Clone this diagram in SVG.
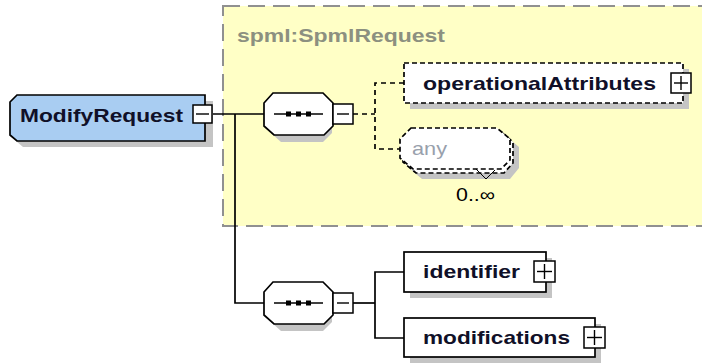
<svg xmlns="http://www.w3.org/2000/svg" width="702" height="364" viewBox="0 0 702 364">
<defs>
<style>
.t{font-family:"Liberation Sans",Arial,sans-serif;font-weight:bold;font-size:19px;fill:#101028}
.ln{fill:none;stroke:#000;stroke-width:1.7}
.dl{fill:none;stroke:#000;stroke-width:1.7;stroke-dasharray:5 4}
.sh{fill:#c4c4c4}
.box{fill:#fff;stroke:#000;stroke-width:1.7}
.dbox{fill:#fff;stroke:#000;stroke-width:1.7;stroke-dasharray:5 3}
.pm{fill:#fff;stroke:#000;stroke-width:1.5}
</style>
<g id="seqshape">
<polygon class="sh" points="16,7 58,7 68,17 68,40 59,49 17,49 7,40 7,17"/>
<polygon class="box" points="9,0 59,0 69,10 69,33 60,42 10,42 0,33 0,10"/>
<line x1="10" y1="21" x2="59" y2="21" stroke="#000" stroke-width="1.6"/>
<rect x="22" y="18.5" width="5" height="5" fill="#000"/>
<rect x="32" y="18.5" width="5" height="5" fill="#000"/>
<rect x="42" y="18.5" width="5" height="5" fill="#000"/>
<rect class="pm" x="69" y="11" width="20" height="20"/>
<line x1="73" y1="21" x2="85" y2="21" stroke="#000" stroke-width="1.4"/>
</g>
</defs>
<rect width="702" height="364" fill="#fff"/>

<g id="spmlRequest">
<rect x="223" y="6" width="485" height="220" fill="#ffffc6" stroke="#909090" stroke-width="2" stroke-dasharray="17 8"/>
<text x="237" y="42" style="font-family:'Liberation Sans',Arial,sans-serif;font-weight:bold;font-size:19px;fill:#8c9080" textLength="208" lengthAdjust="spacingAndGlyphs">spml:SpmlRequest</text>
</g>

<g id="connectors">
<polyline class="ln" points="212,114 264,114"/>
<polyline class="ln" points="235,114 235,303 264,303"/>
<polyline class="dl" points="353,114 375,114"/>
<polyline class="dl" points="404,83 375,83 375,149 404,149"/>
<polyline class="ln" points="353,303 375,303"/>
<polyline class="ln" points="404,272 375,272 375,338 404,338"/>
</g>

<g id="ModifyRequest">
<polygon class="sh" points="23,101 213,101 213,147 23,147 16,141 16,108"/>
<polygon points="17,95 205,95 205,141 17,141 10,135 10,102" fill="#a9cdf2" stroke="#000" stroke-width="1.7"/>
<text class="t" x="20" y="122" textLength="163" lengthAdjust="spacingAndGlyphs">ModifyRequest</text>
<rect class="pm" x="193" y="105" width="19" height="18"/>
<line x1="196" y1="114" x2="209" y2="114" stroke="#000" stroke-width="1.4"/>
</g>

<g id="sequence1">
<use href="#seqshape" x="264" y="93"/>
</g>

<g id="sequence2">
<use href="#seqshape" x="264" y="282"/>
</g>

<g id="operationalAttributes">
<rect class="sh" x="410" y="69" width="279" height="40"/>
<rect class="dbox" x="404" y="63" width="279" height="40"/>
<text class="t" x="423" y="90" textLength="233" lengthAdjust="spacingAndGlyphs">operationalAttributes</text>
<rect class="pm" x="671" y="73" width="20" height="20"/>
<line x1="674" y1="83" x2="688" y2="83" stroke="#000" stroke-width="1.4"/>
<line x1="681" y1="76" x2="681" y2="90" stroke="#000" stroke-width="1.4"/>
</g>

<g id="any">
<polygon class="sh" points="420,136 506,136 519,147 519,168 510,179 422,179 409,168"/>
<polygon class="dbox" points="414,131 500,131 513,142 513,163 504,173 416,173 403,162 403,142"/>
<polygon class="dbox" points="411,128 497,128 510,139 510,160 501,169 413,169 400,158 400,139" style="fill:#fff"/>
<text x="412" y="155" style="font-family:'Liberation Sans',Arial,sans-serif;font-size:19px;fill:#98a0ac" textLength="35" lengthAdjust="spacingAndGlyphs">any</text>
<polyline points="476,169 486,179 495,170" fill="none" stroke="#000" stroke-width="1"/>
<text x="456" y="201" style="font-family:'Liberation Sans',Arial,sans-serif;font-size:18px;fill:#000" textLength="39" lengthAdjust="spacingAndGlyphs">0..∞</text>
</g>

<g id="identifier">
<rect class="sh" x="410" y="258" width="142" height="40"/>
<rect class="box" x="404" y="252" width="142" height="40"/>
<text class="t" x="423" y="278" textLength="97" lengthAdjust="spacingAndGlyphs">identifier</text>
<rect class="pm" x="534" y="261" width="21" height="21"/>
<line x1="537" y1="271.5" x2="552" y2="271.5" stroke="#000" stroke-width="1.4"/>
<line x1="544.5" y1="264" x2="544.5" y2="279" stroke="#000" stroke-width="1.4"/>
</g>

<g id="modifications">
<rect class="sh" x="410" y="324" width="191" height="39"/>
<rect class="box" x="404" y="318" width="191" height="39"/>
<text class="t" x="423" y="344" textLength="147" lengthAdjust="spacingAndGlyphs">modifications</text>
<rect class="pm" x="584" y="327" width="21" height="21"/>
<line x1="587" y1="337.5" x2="602" y2="337.5" stroke="#000" stroke-width="1.4"/>
<line x1="594.5" y1="330" x2="594.5" y2="345" stroke="#000" stroke-width="1.4"/>
</g>
</svg>
